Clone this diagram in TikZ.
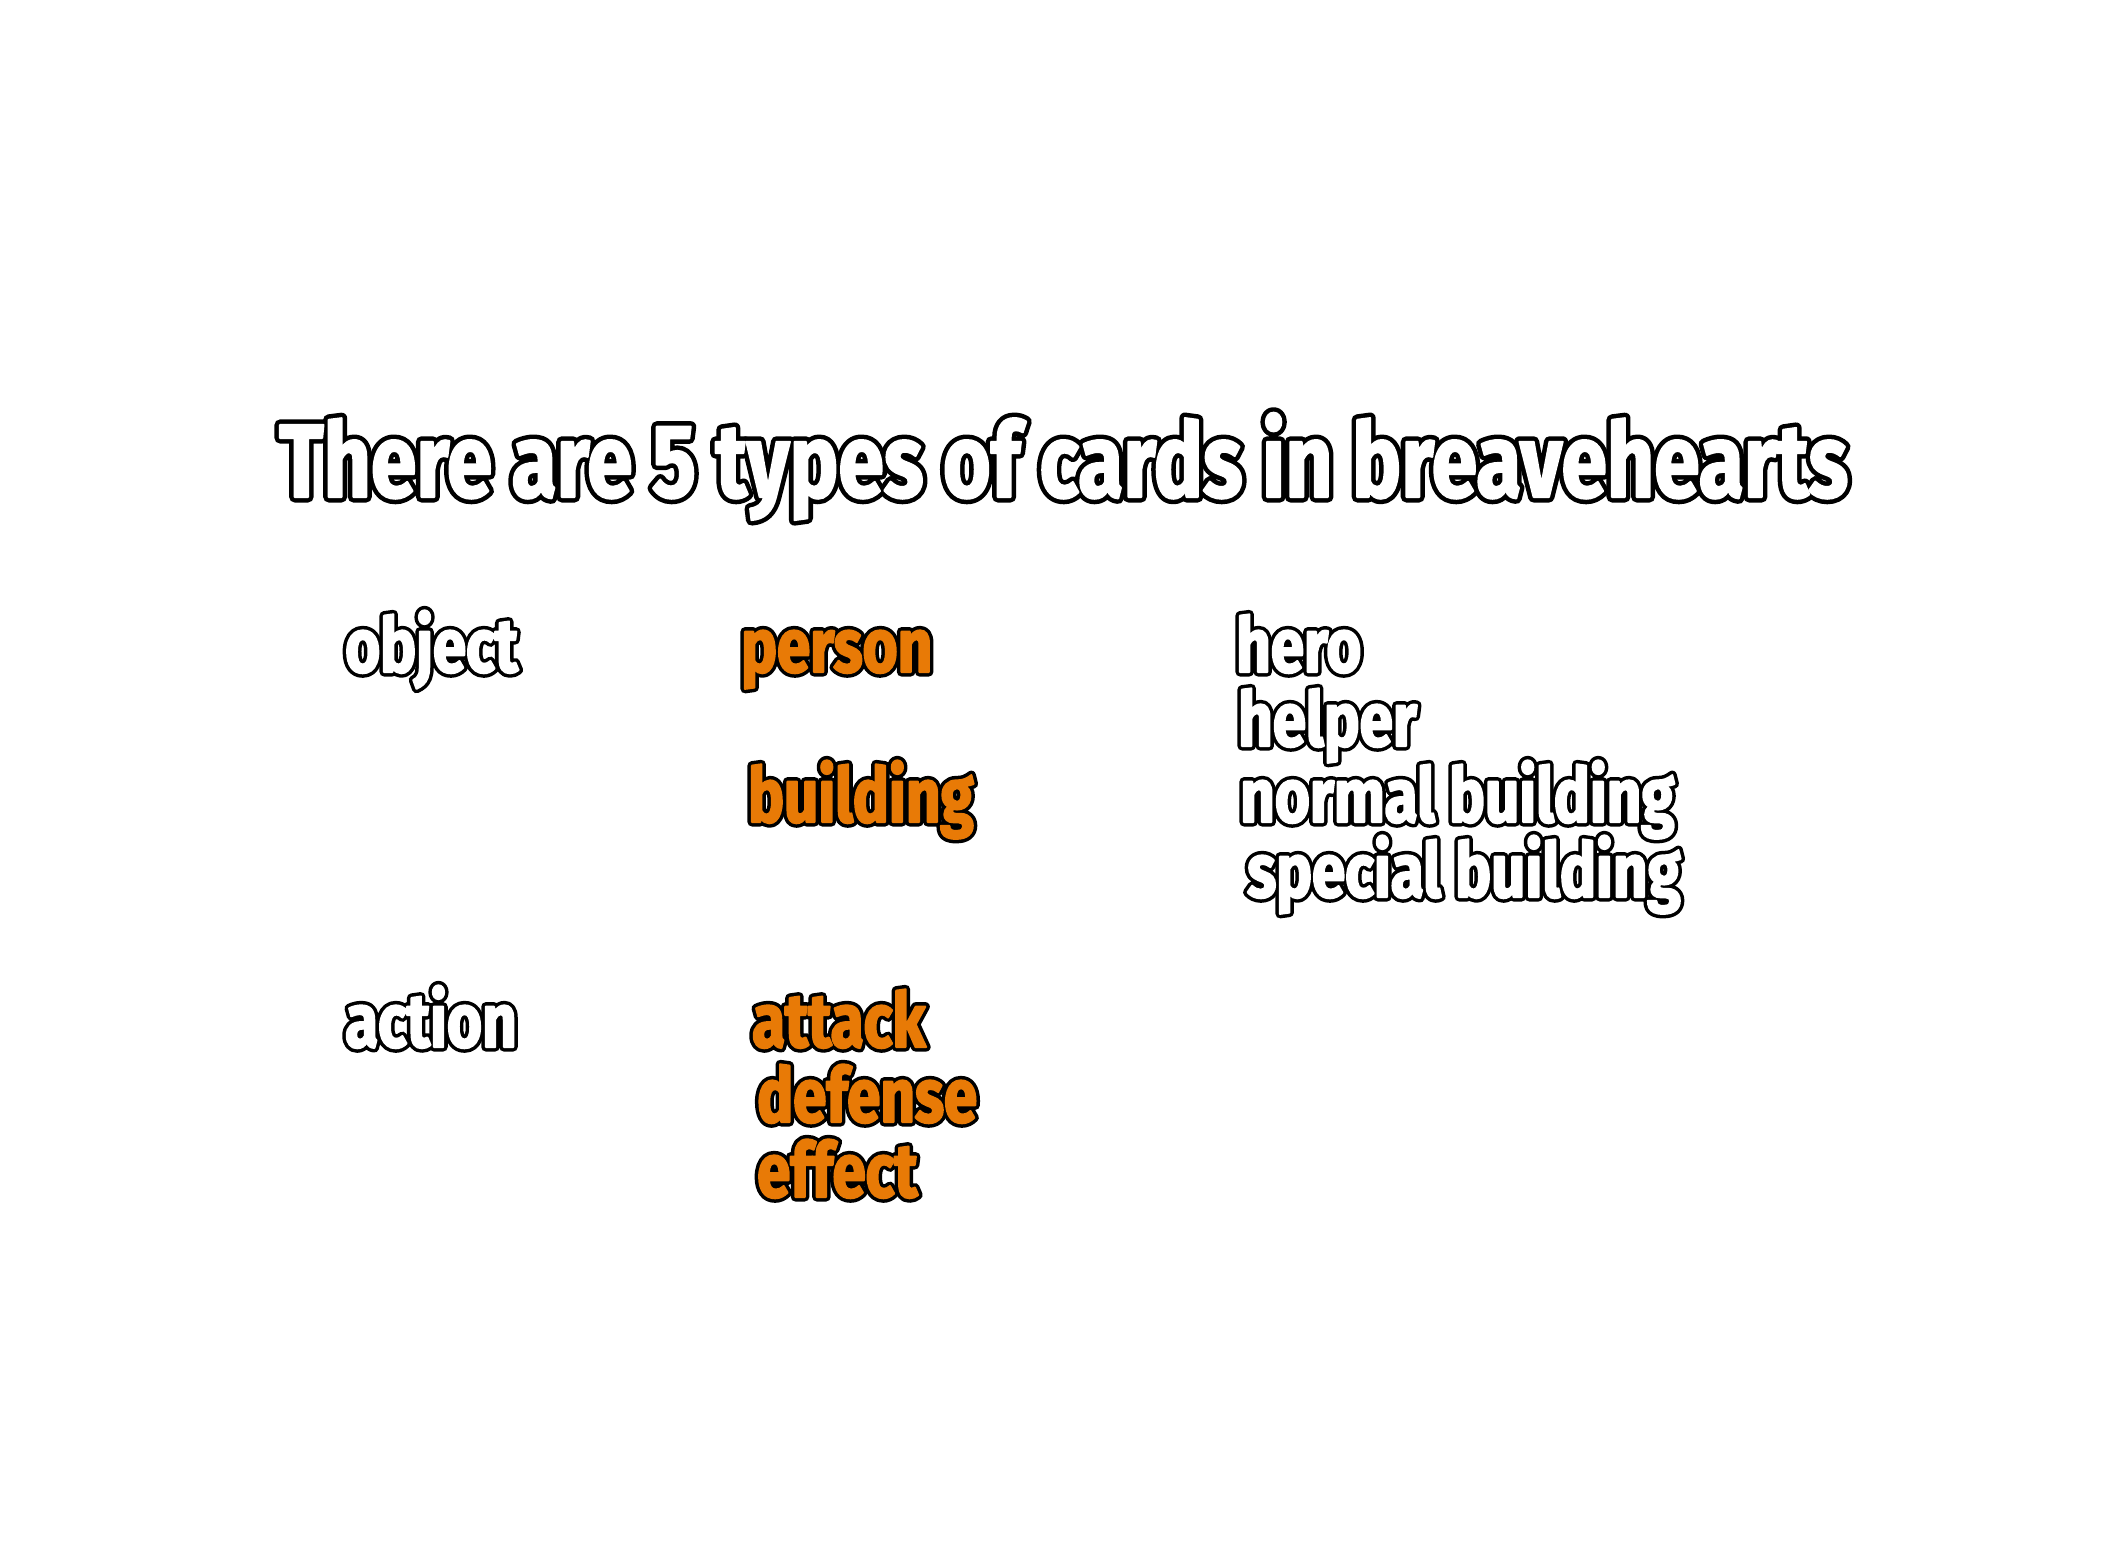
\documentclass[tikz,border=0pt]{standalone}
\usepackage{fontspec}
\usepackage{xcolor}
\newfontfamily\cardfont{Fira Sans}[FakeStretch=0.79]
\definecolor{cardorange}{RGB}{232,122,6}
% #1 outline stroke width (bp), #2 fill colour, #3 text
\newcommand\olt[3]{%
  \leavevmode
  \rlap{\special{pdf:literal direct 2 Tr 1 j #1 w}\textcolor{black}{#3}}%
  \special{pdf:literal direct 2 Tr 1 j 2 w}\textcolor{#2}{#3}%
  \special{pdf:literal direct 0 Tr 1 w}}
\tikzset{
  titletext/.style={anchor=base west, inner sep=0pt, font=\cardfont\bfseries\fontsize{104}{110}\selectfont},
  itemtext/.style={anchor=base west, inner sep=0pt, font=\cardfont\bfseries\fontsize{76}{80}\selectfont},
}
\begin{document}
\begin{tikzpicture}[x=1pt,y=-1pt]
\useasboundingbox[fill=white] (0,0) rectangle (2124,1554);
\node[titletext] (title) at (279,497) {\olt{11}{white}{There are 5 types of cards in breavehearts}};
\node[itemtext] (object) at (345,672) {\olt{9}{white}{object}};
\node[itemtext] (person) at (741,672) {\olt{9}{cardorange}{person}};
\node[itemtext] (building) at (748,822) {\olt{9}{cardorange}{building}};
\node[itemtext] (hero) at (1236,672) {\olt{9}{white}{hero}};
\node[itemtext] (helper) at (1238,746) {\olt{9}{white}{helper}};
\node[itemtext] (normal) at (1240,822) {\olt{9}{white}{normal building}};
\node[itemtext] (special) at (1247,897) {\olt{9}{white}{special building}};
\node[itemtext] (action) at (345,1047) {\olt{9}{white}{action}};
\node[itemtext] (attack) at (752,1047) {\olt{9}{cardorange}{attack}};
\node[itemtext] (defense) at (757,1122) {\olt{9}{cardorange}{defense}};
\node[itemtext] (effect) at (757,1197) {\olt{9}{cardorange}{effect}};
\end{tikzpicture}
\end{document}
